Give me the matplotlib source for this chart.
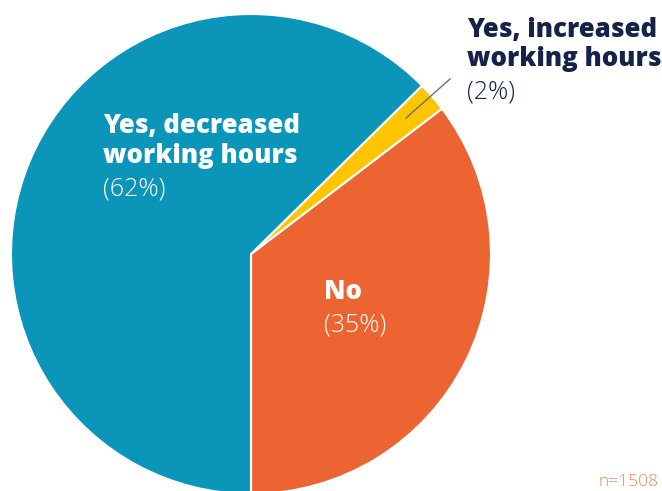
import matplotlib.pyplot as plt

# shares of respondents
labels = ['No', 'Yes, increased\nworking hours', 'Yes, decreased\nworking hours']
values = [35, 2, 62]
pct_text = ['(35%)', '(2%)', '(62%)']
colors = ['#ec6431', '#fcc500', '#0b95b9']

navy = '#15224a'
font = ['Open Sans', 'DejaVu Sans']
H = 491

fig = plt.figure(figsize=(6.62, 4.91), dpi=100)
ax = fig.add_axes([0, 0, 1, 1])
ax.set_aspect('equal')
ax.axis('off')

ax.pie(values, colors=colors, startangle=-90, counterclock=True,
       center=(251, H - 254), radius=240,
       wedgeprops=dict(edgecolor='white', linewidth=1.5))
ax.set_xlim(0, 662)
ax.set_ylim(0, H)


def label(x, baselines, name, pct, color):
    # bold name lines, then the light percentage line
    lines = name.split('\n')
    for line, b in zip(lines, baselines):
        ax.text(x, H - b, line, color=color, fontsize=18.5, fontweight='heavy',
                family=font, va='baseline')
    ax.text(x, H - baselines[-1], pct, color=color, fontsize=18,
            fontweight='light', family=font, va='baseline')


label(103, [133, 163, 195], labels[2], pct_text[2], 'white')
label(324, [299, 332], labels[0], pct_text[0], 'white')

# small slice label with leader line
ax.plot([406, 450], [H - 118, H - 79], color='#707070', linewidth=1)
label(467, [37, 66, 98], labels[1], pct_text[1], navy)

ax.text(658, 5, 'n=1508', color='#f0875a', fontsize=12.5, fontweight='light',
        family=font, ha='right', va='baseline')

fig.savefig('out.png', dpi=100)
